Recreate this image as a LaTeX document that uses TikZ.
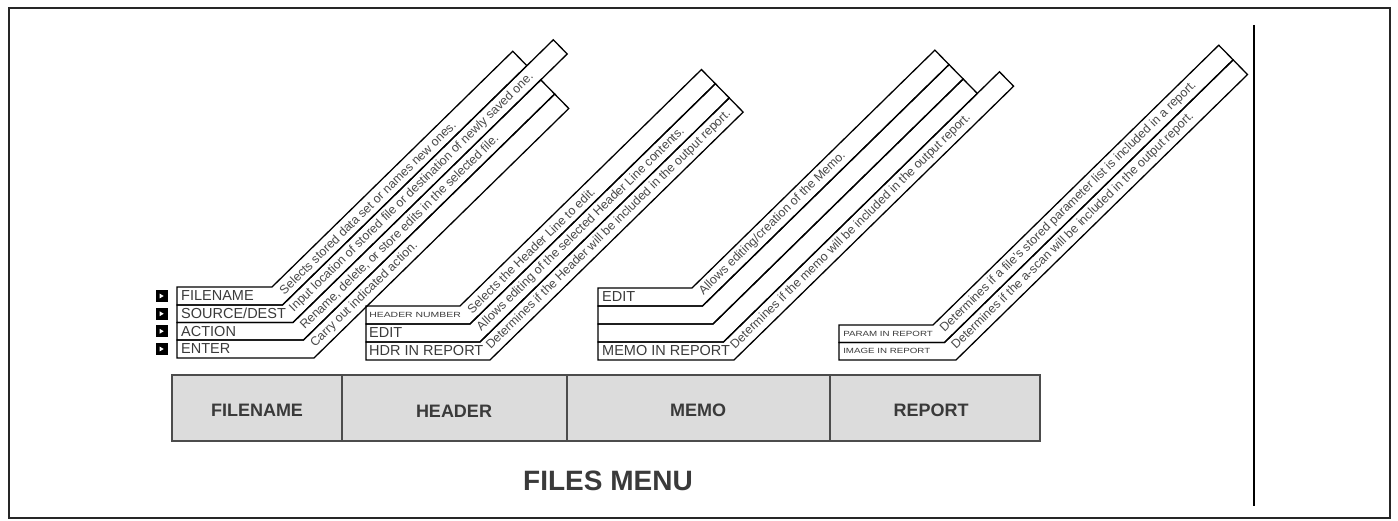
\documentclass[tikz,border=0pt]{standalone}
\usepackage{fontspec}
\setmainfont{Liberation Sans}
\usetikzlibrary{calc}
\definecolor{txt}{HTML}{3A3A3A}
\definecolor{dtxt}{HTML}{484848}
\definecolor{barfill}{HTML}{DCDCDC}
\newcommand{\bandang}{44.4}
% #1 left x, #2 top Y, #3 bottom Y, #4 top corner x, #5 bottom corner x, #6 end (along group axis), #7 prefix
\newcommand{\mkband}[7]{%
  \coordinate (#7A) at (#4,#2);
  \coordinate (#7B) at (#5,#3);
  \coordinate (#7Af) at ($(#7A)+(\bandang:900)$);
  \coordinate (#7Bf) at ($(#7B)+(\bandang:900)$);
  \coordinate (#7Q) at ($(g0)+(\bandang:#6)$);
  \coordinate (#7E) at ($(#7A)!(#7Q)!(#7Af)$);
  \coordinate (#7F) at ($(#7B)!(#7Q)!(#7Bf)$);
  \coordinate (#7P) at ($(#7B)!(#7A)!(#7Bf)$);
  \coordinate (#7M) at ($(#7A)!0.5!(#7P)$);
  \draw[bandline] (#1,#2) -- (#7A) -- (#7E) -- (#7F) -- (#7B) -- (#1,#3) -- cycle;
}
\tikzset{
  bandline/.style={draw=black, line width=1.3pt, line join=miter},
  rowlab/.style={anchor=west, inner sep=0pt, text=txt, font=\fontsize{14.5}{14.5}\selectfont},
  tinylab/.style={anchor=west, inner sep=0pt, text=txt, font=\fontsize{7.5}{8}\selectfont, xscale=1.3},
  diag/.style={anchor=west, inner sep=0pt, text=dtxt, rotate=\bandang, font=\fontsize{12.4}{12.4}\selectfont},
  barcell/.style={draw=black!70, line width=1.2pt, fill=barfill},
  barlab/.style={text=txt, font=\bfseries\fontsize{18}{18}\selectfont},
  icon/.style={fill=black, minimum size=12pt, inner sep=0pt,
    path picture={\fill[white] ($(path picture bounding box.center)+(-1.8,2.4)$) -- ++(4,-2.4) -- ++(-4,-2.4) -- cycle;}},
}
\begin{document}
\begin{tikzpicture}[x=1pt,y=1pt]
\useasboundingbox (0,0) rectangle (1398,521);
% outer frame
\draw[line width=2.5pt, draw=black!85] (9,3) rectangle (1390,513);
\draw[line width=1.5pt] (1254,496) -- (1254,15);

% ---------- group 1: FILENAME ----------
\coordinate (g0) at (272,234);
\mkband{177}{234}{216}{272}{282.5}{337}{fa}
\mkband{177}{216}{198.5}{282.5}{293}{374}{fb}
\mkband{177}{198.5}{181}{293}{303.5}{337}{fc}
\mkband{177}{181}{163}{303.5}{314}{337}{fd}
\node[icon] (ia) at (161.5,225) {};
\node[icon] (ib) at (161.5,207.25) {};
\node[icon] (ic) at (161.5,189.75) {};
\node[icon] (id) at (161.5,172) {};
\node[rowlab] (la) at (181,225) {FILENAME};
\node[rowlab] (lb) at (181,207.25) {SOURCE/DEST};
\node[rowlab] (lc) at (181,189.75) {ACTION};
\node[rowlab] (ld) at (181,172) {ENTER};
\node[diag] (da) at ($(faM)+(\bandang:3)$) {Selects stored data set or names new ones.};
\node[diag] (db) at ($(fbM)+(\bandang:3)$) {Input location of stored file or destination of newly saved one.};
\node[diag] (dc) at ($(fcM)+(\bandang:3)$) {Rename, delete, or store edits in the selected file.};
\node[diag] (dd) at ($(fdM)+(\bandang:3)$) {Carry out indicated action.};

% ---------- group 2: HEADER ----------
\coordinate (g0) at (460,215);
\mkband{366}{215}{197}{460}{470}{338}{ha}
\mkband{366}{197}{179}{470}{480}{338}{hb}
\mkband{366}{179}{161}{480}{490}{338}{hc}
\node[tinylab, xscale=1.07] (lha) at (369,206) {HEADER NUMBER};
\node[rowlab] (lhb) at (369,188) {EDIT};
\node[rowlab] (lhc) at (369,170) {HDR IN REPORT};
\node[diag] (dha) at ($(haM)+(\bandang:3)$) {Selects the Header Line to edit.};
\node[diag] (dhb) at ($(hbM)+(\bandang:3)$) {Allows editing of the selected Header Line contents.};
\node[diag] (dhc) at ($(hcM)+(\bandang:2)$) {Determines if the Header will be included in the output report.};

% ---------- group 3: MEMO ----------
\coordinate (g0) at (692,233);
\mkband{598}{233}{215}{692}{702.5}{340}{ma}
\mkband{598}{215}{197}{702.5}{713}{340}{mb}
\mkband{598}{197}{179}{713}{723.5}{340}{mc}
\mkband{598}{179}{161}{723.5}{734}{371}{md}
\node[rowlab] (lma) at (602,224) {EDIT};
\node[rowlab] (lmd) at (602,170) {MEMO IN REPORT};
\node[diag] (dma) at ($(maM)+(\bandang:3)$) {Allows editing/creation of the Memo.};
\node[diag] (dmd) at ($(mdM)+(\bandang:3)$) {Determines if the memo will be included in the output report.};

% ---------- group 4: REPORT ----------
\coordinate (g0) at (933,196);
\mkband{839}{196}{178.5}{933}{944.5}{400}{ra}
\mkband{839}{178.5}{161}{944.5}{956}{400}{rb}
\node[tinylab] (lra) at (843,187.25) {PARAM IN REPORT};
\node[tinylab] (lrb) at (843,169.75) {IMAGE IN REPORT};
\node[diag] (dra) at ($(raM)+(\bandang:3)$) {Determines if a file's stored parameter list is included in a report.};
\node[diag] (drb) at ($(rbM)+(\bandang:3)$) {Determines if the a-scan will be included in the output report.};

% ---------- menu bar ----------
\draw[barcell] (172,80) rectangle (342,146);
\draw[barcell] (342,80) rectangle (567,146);
\draw[barcell] (567,80) rectangle (830,146);
\draw[barcell] (830,80) rectangle (1040,146);
\node[barlab] (bf) at (257,111) {FILENAME};
\node[barlab] (bh) at (454,110) {HEADER};
\node[barlab] (bm) at (698,111) {MEMO};
\node[barlab] (br) at (931,111) {REPORT};
\node[text=txt, font=\bfseries\fontsize{28}{28}\selectfont] (title) at (608,40) {FILES MENU};
\end{tikzpicture}
\end{document}
